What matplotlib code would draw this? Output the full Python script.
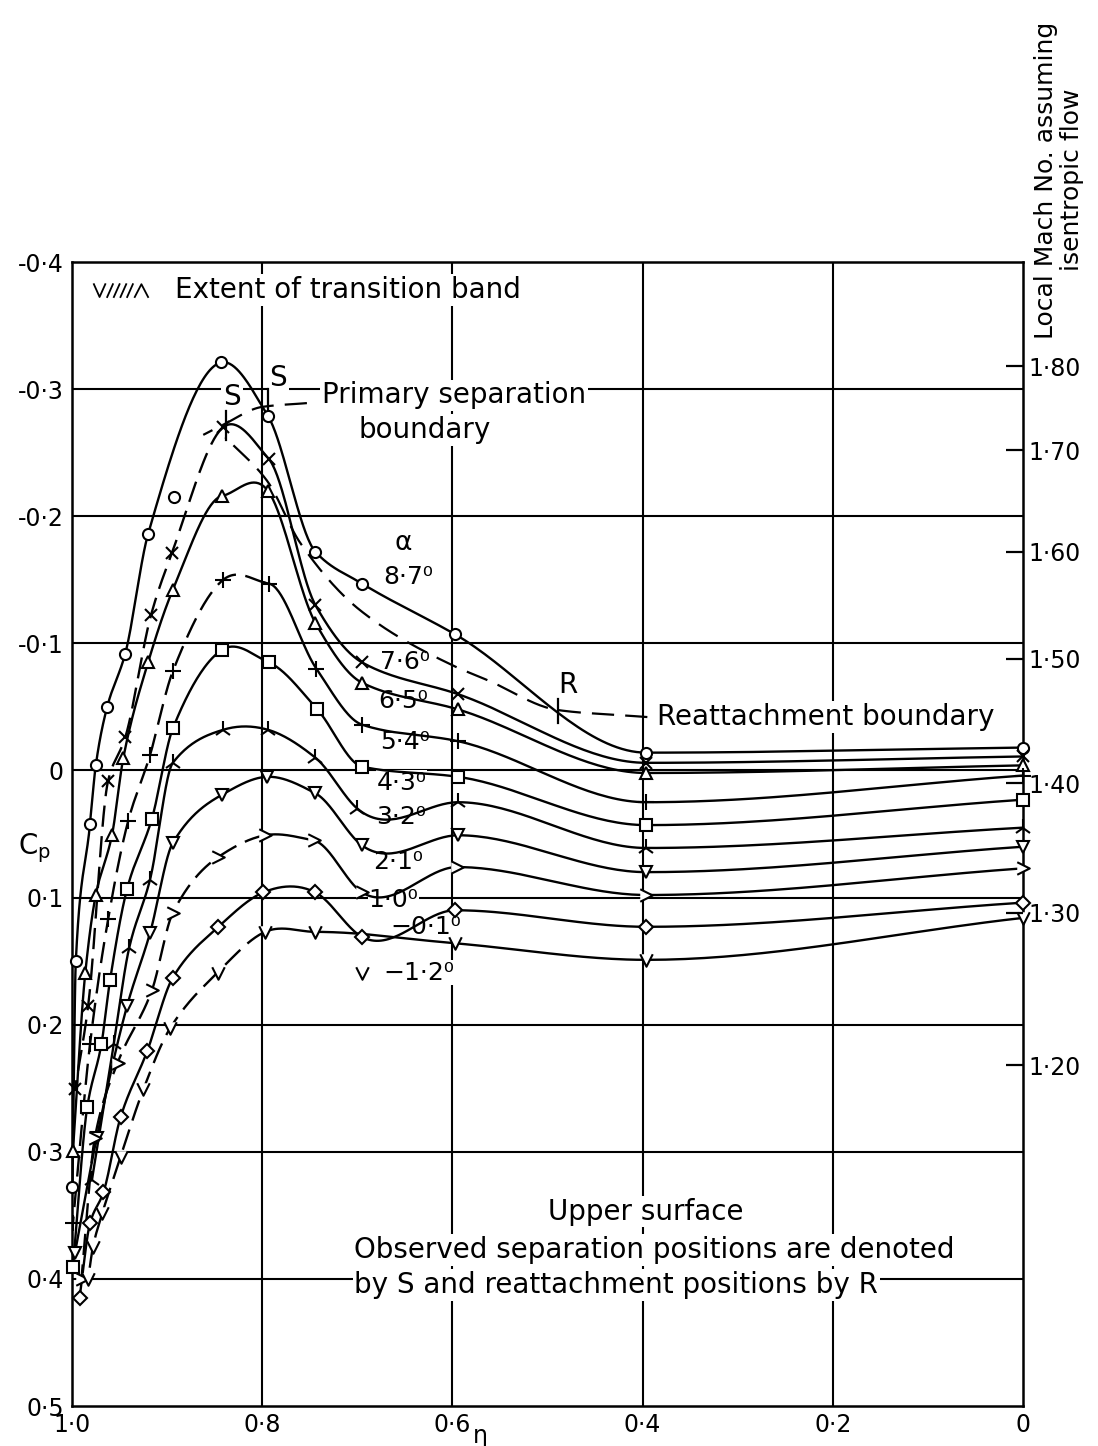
import numpy as np
import matplotlib
matplotlib.use("Agg")
from matplotlib import pyplot as plt
from matplotlib.path import Path

# Cp distributions on the upper surface (eta, Cp)
eta_a87 = [0.9995, 0.996, 0.981, 0.975, 0.963, 0.944, 0.920, 0.893, 0.843, 0.794, 0.744, 0.695, 0.597, 0.396, 0.0]
cp_a87 = [0.328, 0.150, 0.042, -0.004, -0.050, -0.092, -0.186, -0.215, -0.321, -0.279, -0.172, -0.147, -0.107, -0.014, -0.018]

eta_a76 = [0.997, 0.983, 0.962, 0.944, 0.917, 0.895, 0.841, 0.793, 0.744, 0.695, 0.594, 0.396, 0.0]
cp_a76 = [0.251, 0.185, 0.008, -0.026, -0.122, -0.171, -0.270, -0.245, -0.130, -0.085, -0.060, -0.006, -0.011]

eta_a65 = [0.999, 0.986, 0.975, 0.958, 0.946, 0.920, 0.894, 0.842, 0.794, 0.744, 0.695, 0.594, 0.396, 0.0]
cp_a65 = [0.299, 0.159, 0.098, 0.051, -0.010, -0.085, -0.142, -0.216, -0.220, -0.116, -0.069, -0.048, 0.002, -0.004]

eta_a54 = [0.999, 0.981, 0.962, 0.941, 0.918, 0.894, 0.841, 0.793, 0.743, 0.695, 0.594, 0.396, 0.0]
cp_a54 = [0.356, 0.215, 0.117, 0.040, -0.012, -0.078, -0.150, -0.147, -0.080, -0.036, -0.023, 0.025, 0.004]

eta_a43 = [0.999, 0.984, 0.969, 0.960, 0.942, 0.916, 0.894, 0.842, 0.793, 0.742, 0.695, 0.594, 0.396, 0.0]
cp_a43 = [0.391, 0.265, 0.215, 0.165, 0.093, 0.038, -0.033, -0.095, -0.085, -0.048, -0.003, 0.005, 0.043, 0.023]

eta_a32 = [0.979, 0.956, 0.940, 0.918, 0.894, 0.841, 0.794, 0.744, 0.700, 0.594, 0.396, 0.0]
cp_a32 = [0.322, 0.215, 0.140, 0.086, -0.006, -0.032, -0.032, -0.010, 0.030, 0.025, 0.061, 0.045]

eta_a21 = [0.997, 0.974, 0.942, 0.918, 0.894, 0.842, 0.795, 0.744, 0.695, 0.594, 0.396, 0.0]
cp_a21 = [0.380, 0.289, 0.185, 0.128, 0.057, 0.019, 0.005, 0.018, 0.059, 0.051, 0.080, 0.060]

eta_a10 = [0.990, 0.976, 0.952, 0.916, 0.894, 0.846, 0.797, 0.746, 0.695, 0.595, 0.396, 0.0]
cp_a10 = [0.400, 0.289, 0.230, 0.173, 0.112, 0.068, 0.051, 0.055, 0.096, 0.076, 0.098, 0.077]

eta_am01 = [0.992, 0.981, 0.967, 0.949, 0.921, 0.894, 0.846, 0.799, 0.744, 0.695, 0.597, 0.396, 0.0]
cp_am01 = [0.415, 0.356, 0.332, 0.273, 0.221, 0.163, 0.123, 0.096, 0.096, 0.131, 0.110, 0.123, 0.104]

eta_am12 = [0.983, 0.978, 0.968, 0.949, 0.925, 0.897, 0.847, 0.797, 0.744, 0.695, 0.597, 0.396, 0.0]
cp_am12 = [0.400, 0.375, 0.348, 0.304, 0.251, 0.203, 0.159, 0.127, 0.127, 0.159, 0.136, 0.149, 0.116]

# points lying off the faired curve (drawn as markers only)
off_a87 = [0.893]
off_am12 = [0.695]

# separation / reattachment boundaries
eta_sep = [0.862, 0.841, 0.800, 0.753]
cp_sep = [-0.264, -0.272, -0.286, -0.289]
eta_reat = [0.839, 0.795, 0.760, 0.697, 0.595, 0.563, 0.489, 0.395]
cp_reat = [-0.262, -0.228, -0.179, -0.126, -0.081, -0.071, -0.0475, -0.042]

# right hand scale: local Mach number
mach_labels = ["1·80", "1·70", "1·60", "1·50", "1·40", "1·30", "1·20"]
mach_cp = [-0.318, -0.252, -0.172, -0.088, 0.010, 0.112, 0.232]

alpha_labels = ["8·7⁰", "7·6⁰", "6·5⁰", "5·4⁰", "4·3⁰", "3·2⁰", "2·1⁰", "1·0⁰", "−0·1⁰", "−1·2⁰"]
alpha_eta = [0.673, 0.676, 0.678, 0.676, 0.680, 0.680, 0.683, 0.688, 0.665, 0.673]
alpha_cp = [-0.152, -0.085, -0.055, -0.022, 0.010, 0.037, 0.072, 0.102, 0.123, 0.159]

x_ticks = [1.0, 0.8, 0.6, 0.4, 0.2, 0.0]
x_ticklabels = ["1·0", "0·8", "0·6", "0·4", "0·2", "0"]
y_ticks = [-0.4, -0.3, -0.2, -0.1, 0.0, 0.1, 0.2, 0.3, 0.4, 0.5]
y_ticklabels = ["-0·4", "-0·3", "-0·2", "-0·1", "0", "0·1", "0·2", "0·3", "0·4", "0·5"]


def fair(xs, ys, n=40):
    # hermite curve through the points; monotone slopes, but rounded
    # peaks where the stations are close together
    x = np.asarray(xs, float)[::-1]
    y = np.asarray(ys, float)[::-1]
    h = np.diff(x)
    d = np.diff(y) / h
    m = np.zeros_like(y)
    for k in range(1, len(x) - 1):
        if d[k - 1] * d[k] > 0:
            w1 = 2 * h[k] + h[k - 1]
            w2 = h[k] + 2 * h[k - 1]
            m[k] = (w1 + w2) / (w1 / d[k - 1] + w2 / d[k])
        elif h[k - 1] < 0.12 and h[k] < 0.12:
            m[k] = (h[k] * d[k - 1] + h[k - 1] * d[k]) / (h[k - 1] + h[k])
    m[0] = d[0]
    m[-1] = d[-1]
    px, py = [], []
    for k in range(len(h)):
        t = np.linspace(0, 1, n)
        h00 = 2 * t**3 - 3 * t**2 + 1
        h10 = t**3 - 2 * t**2 + t
        h01 = -2 * t**3 + 3 * t**2
        h11 = t**3 - t**2
        px.append(x[k] + t * h[k])
        py.append(h00 * y[k] + h10 * h[k] * m[k] + h01 * y[k + 1] + h11 * h[k] * m[k + 1])
    return np.concatenate(px), np.concatenate(py)


chevron_r = Path([(-1, 1), (1, 0), (-1, -1)], [Path.MOVETO, Path.LINETO, Path.LINETO])
chevron_v = Path([(-1, 1), (0, -1), (1, 1)], [Path.MOVETO, Path.LINETO, Path.LINETO])

# (eta, cp, off-curve points, marker, size, dashed leading part from eta >= value)
curves = [
    (eta_a87, cp_a87, off_a87, "o", 8, None),
    (eta_a76, cp_a76, [], "x", 8, 0.845),
    (eta_a65, cp_a65, [], "^", 9, None),
    (eta_a54, cp_a54, [], "+", 12, 0.80),
    (eta_a43, cp_a43, [], "s", 8, None),
    (eta_a32, cp_a32, [], "2", 13, None),
    (eta_a21, cp_a21, [], "v", 9, None),
    (eta_a10, cp_a10, [], chevron_r, 9, 0.80),
    (eta_am01, cp_am01, [], "D", 7, None),
    (eta_am12, cp_am12, off_am12, chevron_v, 9, 0.80),
]

fig = plt.figure(figsize=(10.98, 14.46), dpi=100)
ax = fig.add_axes([72 / 1098, 1 - 1406 / 1446, 951 / 1098, 1144 / 1446])
ax.set_xlim(1.0, 0.0)
ax.set_ylim(0.5, -0.4)

for v in [0.8, 0.6, 0.4, 0.2]:
    ax.axvline(v, color="black", lw=1.5, zorder=1)
for v in [-0.3, -0.2, -0.1, 0.0, 0.1, 0.2, 0.3, 0.4]:
    ax.axhline(v, color="black", lw=1.5, zorder=1)

for eta, cp, off, mk, ms, dash_from in curves:
    le = [e for e in eta if e not in off]
    lc = [c for e, c in zip(eta, cp) if e not in off]
    sx, sy = fair(le, lc)
    if dash_from is None:
        ax.plot(sx, sy, color="black", lw=1.7, zorder=3, clip_on=False)
    else:
        lead = sx >= dash_from - 0.004
        ax.plot(sx[lead], sy[lead], color="black", lw=1.7, zorder=3,
                dashes=(9, 4), clip_on=False)
        ax.plot(sx[sx <= dash_from], sy[sx <= dash_from], color="black",
                lw=1.7, zorder=3, clip_on=False)
    ax.plot(eta, cp, linestyle="none", marker=mk, ms=ms, mfc="white",
            mec="black", mew=1.5, zorder=4, clip_on=False)

# boundaries
sx, sy = fair(eta_sep, cp_sep)
ax.plot(sx, sy, color="black", lw=1.6, dashes=(10, 5), zorder=3)
sx, sy = fair(eta_reat, cp_reat)
ax.plot(sx, sy, color="black", lw=1.6, dashes=(10, 5), zorder=3)

# separation and reattachment marks
ax.plot([0.838, 0.838], [-0.283, -0.260], color="black", lw=1.6, zorder=4)
ax.plot([0.794, 0.794], [-0.300, -0.284], color="black", lw=1.6, zorder=4)
ax.plot([0.489, 0.489], [-0.056, -0.037], color="black", lw=1.6, zorder=4)

tk = dict(color="black", fontsize=20, zorder=2,
          bbox=dict(facecolor="white", edgecolor="none", pad=1.5))
ax.text(0.832, -0.294, "S", ha="center", va="center", **tk)
ax.text(0.783, -0.309, "S", ha="center", va="center", **tk)
ax.text(0.479, -0.067, "R", ha="center", va="center", **tk)
ax.text(0.737, -0.295, "Primary separation", ha="left", va="center", **tk)
ax.text(0.699, -0.268, "boundary", ha="left", va="center", **tk)
ax.text(0.385, -0.042, "Reattachment boundary", ha="left", va="center", **tk)
ax.text(0.892, -0.378, "Extent of transition band", ha="left", va="center", **tk)
ax.text(0.397, 0.347, "Upper surface", ha="center", va="center", **tk)
ax.text(0.703, 0.377, "Observed separation positions are denoted",
        ha="left", va="center", **tk)
ax.text(0.703, 0.405, "by S and reattachment positions by R",
        ha="left", va="center", **tk)
ax.text(0.652, -0.179, "α", ha="center", va="center", fontsize=19, zorder=2)
for lab, e, c in zip(alpha_labels, alpha_eta, alpha_cp):
    ax.text(e, c, lab, ha="left", va="center", fontsize=18, zorder=2,
            bbox=dict(facecolor="white", edgecolor="none", pad=0.5))

# transition band symbol
tr = ax.transAxes
yb, yt = 0.9694, 0.9806
ax.plot([0.023, 0.029, 0.035], [yt, yb, yt], color="black", lw=1.3, transform=tr)
for x0 in [0.037, 0.044, 0.051, 0.058]:
    ax.plot([x0, x0 + 0.006], [yb, yt], color="black", lw=1.3, transform=tr)
ax.plot([0.066, 0.073, 0.080], [yb, yt, yb], color="black", lw=1.3, transform=tr)

ax.set_xticks(x_ticks)
ax.set_xticklabels(x_ticklabels)
ax.set_yticks(y_ticks)
ax.set_yticklabels(y_ticklabels)
ax.tick_params(axis="both", length=0, labelsize=17)
ax.tick_params(axis="x", pad=5)
ax.tick_params(axis="y", pad=6)
for s in ax.spines.values():
    s.set_linewidth(1.8)

ax2 = ax.twinx()
ax2.set_ylim(0.5, -0.4)
ax2.set_yticks(mach_cp)
ax2.set_yticklabels(mach_labels)
ax2.tick_params(axis="y", direction="in", length=12, width=1.6, labelsize=17, pad=4)
for s in ax2.spines.values():
    s.set_visible(False)

fig.text(34 / 1098, 1 - 848 / 1446, r"C$_{\mathrm{p}}$", fontsize=20,
         ha="center", va="center")
fig.text(480 / 1098, 1 - 1436 / 1446, "η", fontsize=17, ha="center", va="center")
fig.text(1059 / 1098, 1 - 180 / 1446, "Local Mach No. assuming\nisentropic flow",
         rotation=90, fontsize=18, ha="center", va="center", multialignment="center",
         linespacing=1.1)

fig.savefig("out.png", dpi=100)
